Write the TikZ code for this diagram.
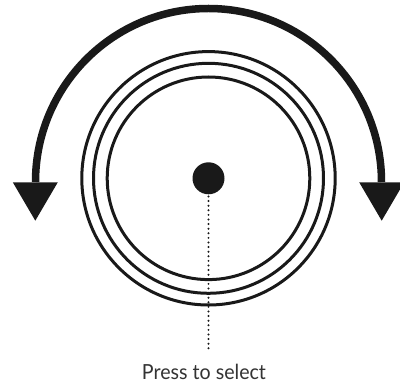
\documentclass[tikz,border=0pt]{standalone}
\usepackage{fontspec}
\setmainfont{Lato}
\usepackage{graphicx}
\begin{document}
\begin{tikzpicture}[x=1pt,y=1pt,
  ring/.style={draw=black!90, line width=3pt},
  bigarc/.style={draw=black!90, line width=7.5pt},
  tip/.style={fill=black!90},
  dotline/.style={draw=black!90, line width=2.2pt, line cap=round, dash pattern=on 0pt off 4.6pt}]
\useasboundingbox (0,0) rectangle (400,383);
\coordinate (c) at (208.5,204.7);
\draw[ring] (c) circle[radius=126.7];
\draw[ring] (c) circle[radius=115];
\draw[ring] (c) circle[radius=101.3];
\node[circle, fill=black!90, minimum size=32pt, inner sep=0pt] (knob) at (c) {};
% rotation arc
\draw[bigarc] (35.5,201) arc[start angle=180, end angle=0, x radius=173, y radius=173.5];
\fill[tip] (12.8,200.7) -- (57.8,200.7) -- (35.3,162.3) -- cycle;
\fill[tip] (359.2,200.7) -- (404.2,200.7) -- (381.7,162.3) -- cycle;
% dotted pointer
\coordinate (pend) at (208.5,31.5);
\draw[dotline] ([yshift=-2pt]knob.south) -- (pend);
\node[anchor=base, inner sep=0pt, text=black!80, font=\fontsize{20.8}{24}\selectfont] (label) at (204,3.5) {\resizebox{124pt}{\height}{Press to select}};
\end{tikzpicture}
\end{document}
